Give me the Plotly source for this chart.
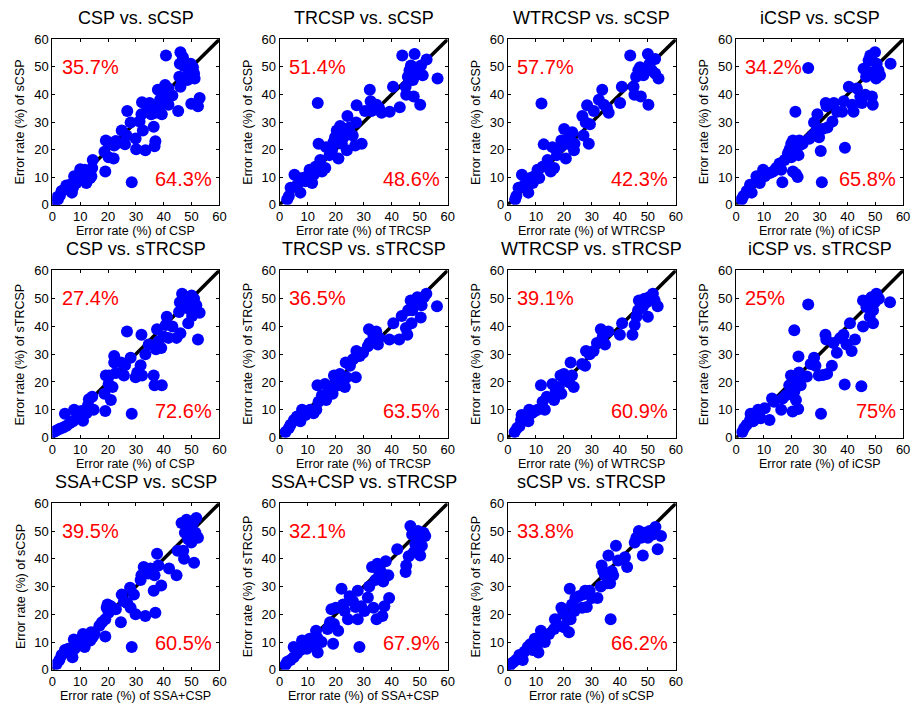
import plotly.graph_objects as go

# ---- error rates (%) per subject, one x/y pair per comparison ----
csp_vs_scsp_x = [1, 2, 1.5, 2.7, 3.3, 4.5, 5, 6.3, 7, 7.4, 7.8, 8.6, 9.6, 10, 11, 11.6, 12.2, 12.8, 13.6, 14.3, 14.5, 14,
                 19, 18.7, 19.2, 20.2, 20.4, 22, 22.8, 22.2, 23.4, 24.9, 26.1, 26.6, 26.9, 28.1, 28.5,
                 29.9, 30.1, 31.3, 32, 32.2, 32.5, 33.4, 34, 34.9, 35.5, 36.4, 36.7, 37, 37, 37.9, 38.1, 38.7,
                 39.1, 39.3, 39.9, 40.5, 40.8, 41.7, 41.7, 43.1, 45.2, 45.6, 46, 45.8, 46, 46.9, 47.3, 48.5, 49,
                 49.7, 49.9, 50.5, 50.9, 51.1, 52.3, 52.9, 50.2, 49.4]
csp_vs_scsp_y = [1.5, 2, 2.6, 3.4, 5, 5.6, 7, 7.3, 4.4, 6.2, 10.3, 7.9, 9.1, 12.9, 10.3, 12.7, 7.9, 11.5, 9.7, 13.3, 16.2, 10.3,
                 12.1, 19.2, 23.3, 17.2, 22.4, 16.8, 23.1, 21.5, 22.4, 26.9, 21.9, 25.1, 34, 29.8, 8.2,
                 24, 20.1, 30.2, 32.8, 37.2, 26.9, 19.8, 34, 36.9, 32.8, 28.3, 21.2, 23, 33.4, 41.7, 34.6, 38.1,
                 36.3, 32.8, 39.9, 43.4, 54.1, 42.2, 36.3, 39.6, 34, 46.4, 42.8, 51.1, 55.3, 53.5, 50.3, 45.2, 48.8,
                 51.1, 36.6, 49.9, 47.6, 45.8, 35.7, 38.7, 46.4, 47]

trcsp_vs_scsp_x = [2.7, 3.3, 3.9, 5.3, 6.3, 7.4, 8, 9.2, 9.8, 10.7, 11.6, 12.2, 12.8, 13.6, 13.9, 14.5, 15.1, 16.3, 16.6,
                   17.8, 18.7, 19.2, 19.8, 20.4, 21, 21.6, 22.2, 22.8, 23.4, 24, 24.2, 24.9, 26.1, 27, 27.3, 27.5,
                   29.3, 30.5, 32.2, 32.5, 32.8, 34.6, 35.5, 36.4, 39.3, 40.5, 42.9, 43.8, 45, 45.2, 45.8, 46.4,
                   46.9, 47.9, 48.2, 48.5, 49.4, 50.2, 50.5, 51.1, 52.5, 56.4, 47.6, 46.4]
trcsp_vs_scsp_y = [2, 3.2, 6.2, 10.9, 7.3, 4.4, 9.7, 8.5, 10.3, 12.7, 7.9, 10.9, 13.8, 36.9, 22.1, 16.2, 12.1, 13.3, 20.9,
                   18, 19.8, 22.7, 24.5, 26.9, 16.8, 28.6, 22.1, 24.5, 25.7, 19.8, 32.2, 28, 25.1, 21.5, 29.8, 36.1,
                   22.1, 34, 41.7, 37.5, 34, 36.3, 35.1, 33.4, 33.7, 42.8, 35.4, 54.1, 42.8, 39.9, 46.4, 48.8,
                   50.5, 39.3, 54.7, 47, 48.2, 36.3, 50.5, 47, 52.7, 45.8, 45.2, 45.2]

wtrcsp_vs_scsp_x = [2.6, 3, 3.8, 5, 5.9, 7.3, 8, 8.9, 9.4, 10.6, 11.2, 12, 12.4, 12.8, 14.2, 15.3, 16.5, 15.9, 17.5,
                    18.7, 19.1, 20.1, 20.7, 21.3, 21.9, 23, 23.6, 23.8, 26.6, 27, 27.8, 28.3, 28.9, 29.3, 30.7,
                    32.5, 33.7, 34.3, 35.4, 36, 40.1, 40.7, 43.7, 44.9, 45.2, 45.8, 46.6, 47.2, 47.5, 48.4, 49,
                    50, 50.2, 50.6, 51.4, 52.6, 52.6, 53.8]
wtrcsp_vs_scsp_y = [2, 3.2, 6.2, 10.9, 7.3, 4.4, 9.7, 7.9, 10.3, 12.7, 9.7, 36.7, 13.8, 21.9, 16.2, 12.1, 13.3, 20.9, 18,
                    20.9, 23.3, 27.5, 16.8, 22.1, 24.5, 26.3, 19.8, 22.1, 32.2, 25.1, 29.8, 36.1, 22.1, 29.2, 34,
                    38.1, 41.7, 36.3, 35.1, 33.4, 36.9, 42.8, 54.1, 42.8, 39.9, 46.4, 48.8, 49.9, 39.3, 47, 48.2,
                    54.7, 36.3, 51.1, 48.8, 52.9, 47.6, 45.8]

icsp_vs_scsp_x = [2, 2.6, 3.8, 5, 5.6, 7.3, 8.5, 9.7, 10.3, 12.1, 13.3, 14.4, 15.6, 16.2, 16.6, 17.4, 18.6, 19.2, 19.8,
                  19.8, 20.4, 20.4, 21.3, 21.5, 21.5, 22.1, 22.4, 22.7, 22.7, 23.9, 25.9, 26.3, 27.5, 28, 28.6,
                  29.2, 29.8, 30.4, 30.8, 31, 32.2, 32.5, 32.8, 34.6, 35.1, 36.3, 38.1, 38.7, 39.1, 40.5, 41.7,
                  42.2, 43.4, 44.6, 45.2, 45.8, 46.4, 46.7, 47.6, 48.2, 48.8, 49.1, 49.9, 50.3, 50.5, 51.1, 51.7,
                  55.5, 47.6]
icsp_vs_scsp_y = [2, 3.2, 5, 7.3, 4.4, 10.3, 7.9, 12.7, 10.3, 11.5, 12.1, 13.3, 15, 12.7, 8.2, 16.2, 18.6, 20, 17.2,
                  22.1, 23.3, 12.1, 33.7, 11.2, 19.8, 10.1, 18, 21.5, 23.3, 22.1, 49.6, 23.9, 25.1, 29.8, 26.3,
                  32.8, 24.5, 19.5, 8.2, 27.5, 36.9, 35.7, 28, 30.2, 36.9, 33.7, 33.7, 37.5, 20.7, 42.8, 36.3,
                  33.7, 42.2, 39.3, 36.9, 49.3, 39.9, 46.4, 52.3, 54.1, 39.3, 36.3, 55.3, 45.8, 51.1, 48.8, 47,
                  51.1, 48.2]

csp_vs_strcsp_x = [0.4, 1.5, 2.7, 3.9, 5.1, 4.5, 6.3, 7.4, 7.8, 8.9, 9.8, 10.4, 11, 12.2, 12.8, 13.1, 14.3, 14.8,
                   19, 18.7, 19.2, 20.2, 20.4, 21, 21.6, 22.2, 22.2, 22.8, 24.6, 25.7, 26.1, 26.8, 28.1, 28.5,
                   29.9, 30.5, 31.7, 32, 32.2, 33.4, 34.6, 36.4, 36.7, 37.2, 37.6, 38.1, 39.1, 39.3, 39.9, 40.7,
                   41.1, 41.7, 43.1, 44.6, 45.5, 45.8, 46, 46.6, 47.3, 48.2, 48.8, 49.4, 50, 50.2, 50.5, 50.9,
                   52.3, 52.9, 48.8, 51.7]
csp_vs_strcsp_y = [2.1, 2.6, 3.2, 3.7, 4.3, 8.6, 5.3, 5.9, 10, 8.2, 7, 9.6, 6.1, 8.8, 11.7, 13.8, 14.7, 10,
                   9.6, 15.8, 22.3, 19.3, 22.3, 13.5, 18.2, 27, 29.3, 23.2, 27, 22.3, 26, 38.1, 28.7, 8.6,
                   21.7, 23.4, 26, 36.9, 22.3, 29.9, 33.4, 22.3, 18.8, 31.7, 38.9, 34.6, 32.2, 18.8, 36.3, 40.4,
                   43.4, 35.8, 39.9, 35.8, 45.1, 48.6, 37.5, 51.6, 47.5, 50.4, 41, 48, 51, 43.6, 45.7, 49.8,
                   35.2, 44.8, 46.3, 47.5]

trcsp_vs_strcsp_x = [2.1, 3.3, 3.9, 5.1, 6.2, 7.4, 8, 9.2, 9.8, 10.9, 12.1, 13.1, 13.5, 13.9, 15.1, 16.2, 16.6, 17.4,
                     18, 18.9, 19.4, 20.1, 20.9, 21.5, 22.1, 22.7, 23.3, 23.6, 23.9, 25.1, 26.2, 27.2, 27.4, 28.6,
                     29.8, 31.5, 31.9, 32.1, 33.5, 34.5, 35.1, 35.6, 39.2, 40.6, 42.7, 43.6, 45.1, 45.6, 45.9,
                     46.8, 47.1, 47.9, 48.5, 49.2, 49.8, 50.4, 50.7, 51.5, 52.4, 56.2, 47.4]
trcsp_vs_strcsp_y = [2.1, 3.5, 4.7, 6.4, 7.6, 5.9, 10, 8.2, 9.4, 10, 8.8, 10, 18.8, 12.9, 15.2, 19.3, 13.5, 16.4,
                     18.2, 15.8, 22.3, 20.5, 18.8, 22.9, 20.5, 19.9, 18.2, 27, 21.7, 25.8, 28.1, 21.7, 31.1, 29.3,
                     30.5, 32.8, 38.9, 34, 36.6, 38.1, 33.4, 35.8, 35.2, 41, 35.2, 43.6, 39.3, 36.9, 45.7,
                     49.2, 41, 47.5, 49.2, 50.4, 48.3, 43.1, 47.5, 50.4, 51.6, 47.1, 45.7]

wtrcsp_vs_strcsp_x = [2.4, 3.3, 4.1, 4.7, 4.9, 5.9, 7.3, 7.6, 8.5, 9.4, 10.6, 11.8, 12.4, 13.2, 13.9, 15.9, 16.5,
                      17.1, 18.2, 19.1, 18.8, 20, 20.6, 21.8, 22.4, 22.9, 23.5, 26.5, 27.6, 27.9, 29.2, 30.6, 31.8,
                      33.2, 33.9, 34.7, 35.9, 40, 40.8, 44.5, 45.3, 45.9, 46.5, 46.8, 47.6, 48.8, 49.6, 50, 50.4,
                      51.8, 52.4, 53.5, 48.2]
wtrcsp_vs_strcsp_y = [2.1, 3.5, 4.1, 6.4, 8.2, 7, 5.9, 10, 8.8, 9.4, 10, 18.8, 12.9, 10, 14.7, 19.3, 13.5,
                      17, 18.2, 15.8, 22.3, 22.9, 21.1, 19.9, 27, 22.3, 18.2, 26.4, 25.8, 31.1, 29.9, 31.1, 34,
                      38.9, 36.3, 33.4, 38.1, 36.9, 41, 36.9, 40.4, 43.4, 45.7, 49.2, 47.5, 49.8, 48.6, 43.4, 50.4,
                      51.6, 49.2, 47.1, 46.9]

icsp_vs_strcsp_x = [2.2, 2.9, 3.8, 5, 5.2, 6.1, 7.9, 8.8, 10.3, 12, 12.9, 13.6, 16.2, 16.7, 17.9, 19.1, 19.7, 20.3,
                    20.9, 20.9, 21.5, 22.1, 22.3, 22.4, 22.6, 23.2, 25.4, 25.9, 26.8, 28, 28.5, 29.7, 30.5, 31.2,
                    32.1, 32.4, 32.7, 34.4, 35, 36.2, 37.4, 38.6, 39, 39.7, 40.9, 41.5, 42.7, 45, 45.6, 45.6,
                    46.8, 48, 48.6, 49.2, 49.8, 50.4, 51.3, 55.3, 49.2]
icsp_vs_strcsp_y = [2.1, 3.5, 4.7, 6.4, 8.6, 5.9, 10, 7, 10.6, 6.4, 14.1, 12.9, 10, 14.1, 15.2, 18.8, 22.3, 9.4,
                    16.6, 38.5, 13.5, 20.5, 10.3, 29.1, 23.4, 18.8, 22, 47.8, 26.4, 28.7, 25.8, 22.3, 8.6, 22.5,
                    36.9, 35.2, 22.9, 25.8, 34, 30.5, 35.8, 36.9, 19.1, 33.4, 41, 31.1, 35.2, 18.5, 39.9, 49.2,
                    46.9, 43.4, 50.4, 41, 48.6, 51.6, 49.8, 48.6, 45.7]

ssacsp_vs_scsp_x = [1.5, 2.5, 3.3, 4.5, 5.7, 6.3, 7.2, 8, 7.7, 9.2, 10.4, 11, 11.6, 12.8, 13.6, 13.9, 14.5, 15.1,
                    16.9, 17.8, 19, 19, 19.5, 20.2, 19.8, 21, 22.8, 24.6, 24.9, 25.7, 26.9, 27.9, 28.1, 28.5, 29.3,
                    29.9, 31.7, 32, 32.8, 33.4, 34.4, 35.2, 36.4, 37, 36.7, 37.6, 38.1, 39.1, 41.9, 44.6, 45,
                    46.4, 47, 47.3, 47.6, 48.2, 48.8, 49.4, 49.9, 50.5, 50.9, 51.4, 51.7, 52.3, 49.7]
ssacsp_vs_scsp_y = [2.1, 3.5, 5.3, 7.1, 7.6, 6.5, 4.5, 7.6, 10.9, 8.8, 11.2, 12.9, 8.2, 12.4, 10.6, 13.5, 11.8, 12.9,
                    15.9, 17.1, 12, 18.2, 22.4, 20.6, 23.5, 22.9, 21.8, 17.1, 27.1, 24.7, 24.1, 29.6, 22.4, 8.2, 27.1,
                    20, 32.4, 34.1, 37.1, 19.4, 34.7, 36.5, 28.5, 20.6, 34.1, 41.8, 37.6, 30.4, 36.5, 34.1, 42.9,
                    52.9, 42.9, 40, 49.4, 54.1, 47.1, 51.2, 45.9, 52.9, 38.6, 49.4, 54.7, 47.6, 48.8]

ssacsp_vs_strcsp_x = [2.1, 2.7, 3.9, 5, 5, 6.2, 7.4, 8, 8.8, 9.7, 10.7, 11.5, 12.1, 13, 13.5, 13.6, 15, 17.1, 18,
                      18.5, 19.1, 19.4, 20.1, 20.9, 22.1, 22.7, 23.2, 24.4, 25, 26.2, 27.1, 27.9, 27.9, 28.5, 29.1,
                      30.3, 31.5, 32, 33, 33.5, 34.2, 34.6, 34.9, 35.6, 36.2, 36.7, 37, 37.4, 37.9, 38.8, 39.1, 42,
                      45, 45.2, 46.1, 46.7, 47.3, 47.9, 48.5, 49.1, 49.4, 50.2, 50.8, 51.4, 52, 49.4]
ssacsp_vs_strcsp_y = [1.8, 2.9, 3.5, 4.5, 8.2, 5.9, 7.1, 10.6, 8.2, 7.6, 11.2, 10.6, 8.8, 14.1, 11.5, 6.2, 10, 14.7, 17.1,
                      21.8, 9.4, 16.5, 22.4, 14.1, 29.2, 23.5, 21.2, 18.2, 26.5, 24.7, 22.6, 28.5, 18.2, 8.2, 22.9,
                      21.2, 26.1, 30, 37.1, 22.4, 32.4, 18.2, 38.2, 35.3, 35.3, 19.4, 31.8, 22.9, 39.1, 34.1, 25.9, 43.5,
                      35.3, 37.6, 40.9, 51.8, 48.8, 42.4, 45.3, 47.6, 50, 41.2, 44.7, 49.4, 48.2, 45.9]

scsp_vs_strcsp_x = [0.9, 1.8, 2.9, 4.1, 5.3, 5.9, 7.1, 8, 8.8, 9.6, 10.4, 10.9, 11.8, 12.7, 13.2, 14.7, 16.5, 16.8,
                    18.2, 19.1, 19.8, 20, 21.2, 21.8, 22.1, 22.4, 22.9, 23.8, 24.1, 25.3, 26.5, 26.8, 27.6, 28.2,
                    29.2, 30, 32, 33.2, 33.5, 34.1, 34.7, 35.5, 35.9, 36.5, 36.7, 37.1, 37.6, 38.6, 39.4, 41.8,
                    42.6, 45.3, 45.9, 46.8, 48.2, 48.8, 50, 50.6, 51.8, 52.7, 53.5, 54.7, 47.6]
scsp_vs_strcsp_y = [1.8, 2.6, 3.5, 5.3, 3.5, 6.5, 8.2, 9.2, 7.1, 11.2, 8.8, 6.2, 14.1, 11.8, 10, 12.9, 14.7, 18.2,
                    15.9, 22.4, 20.6, 15.3, 18.8, 13.5, 29.2, 18.2, 23.5, 21.2, 25.9, 26.5, 22.4, 27.1, 28.5, 22.6,
                    28.5, 25.9, 25.9, 30, 37.6, 35.5, 34.1, 31.2, 41.2, 31.2, 18.2, 35.5, 34.1, 44.7, 39.4, 40.6,
                    37.1, 45.9, 47.6, 50, 41.2, 49.4, 47.6, 50, 48.8, 51.5, 43.5, 48.2, 47.6]

# ---- panel text ----
titles = ["CSP vs. sCSP", "TRCSP vs. sCSP", "WTRCSP vs. sCSP", "iCSP vs. sCSP",
          "CSP vs. sTRCSP", "TRCSP vs. sTRCSP", "WTRCSP vs. sTRCSP", "iCSP vs. sTRCSP",
          "SSA+CSP vs. sCSP", "SSA+CSP vs. sTRCSP", "sCSP vs. sTRCSP"]
x_methods = ["CSP", "TRCSP", "WTRCSP", "iCSP", "CSP", "TRCSP", "WTRCSP", "iCSP", "SSA+CSP", "SSA+CSP", "sCSP"]
y_methods = ["sCSP", "sCSP", "sCSP", "sCSP", "sTRCSP", "sTRCSP", "sTRCSP", "sTRCSP", "sCSP", "sTRCSP", "sTRCSP"]
pct_upper = ["35.7%", "51.4%", "57.7%", "34.2%", "27.4%", "36.5%", "39.1%", "25%", "39.5%", "32.1%", "33.8%"]
pct_lower = ["64.3%", "48.6%", "42.3%", "65.8%", "72.6%", "63.5%", "60.9%", "75%", "60.5%", "67.9%", "66.2%"]

xs = [csp_vs_scsp_x, trcsp_vs_scsp_x, wtrcsp_vs_scsp_x, icsp_vs_scsp_x,
      csp_vs_strcsp_x, trcsp_vs_strcsp_x, wtrcsp_vs_strcsp_x, icsp_vs_strcsp_x,
      ssacsp_vs_scsp_x, ssacsp_vs_strcsp_x, scsp_vs_strcsp_x]
ys = [csp_vs_scsp_y, trcsp_vs_scsp_y, wtrcsp_vs_scsp_y, icsp_vs_scsp_y,
      csp_vs_strcsp_y, trcsp_vs_strcsp_y, wtrcsp_vs_strcsp_y, icsp_vs_strcsp_y,
      ssacsp_vs_scsp_y, ssacsp_vs_strcsp_y, scsp_vs_strcsp_y]

# ---- layout geometry (pixels) ----
W, H = 919, 715
col_px = [(49, 218), (279, 449), (510, 680), (741, 910)]
row_px = [(33, 202), (269, 440), (507, 677)]
FONT = "Liberation Sans, Arial, Helvetica, sans-serif"

fig = go.Figure()
layout = dict(width=W, height=H, margin=dict(l=0, r=0, t=0, b=0),
              paper_bgcolor="white", plot_bgcolor="white", showlegend=False,
              font=dict(family=FONT, color="black"))
annotations = []

for i in range(len(titles)):
    r, c = divmod(i, 4)
    n = i + 1
    xa = "x" if n == 1 else f"x{n}"
    ya = "y" if n == 1 else f"y{n}"
    x0, x1 = col_px[c]
    y0, y1 = row_px[r]
    dx = [x0 / W, x1 / W]
    dy = [1 - y1 / H, 1 - y0 / H]

    axis_common = dict(range=[0, 60], tickvals=[0, 10, 20, 30, 40, 50, 60],
                       ticks="inside", ticklen=3, tickwidth=1, tickcolor="black",
                       showline=True, linecolor="black", linewidth=1, mirror="ticks",
                       showgrid=False, zeroline=False, fixedrange=True,
                       tickfont=dict(size=13, family=FONT, color="black"))
    layout[f"xaxis{n if n > 1 else ''}"] = dict(axis_common, domain=dx, anchor=ya)
    layout[f"yaxis{n if n > 1 else ''}"] = dict(axis_common, domain=dy, anchor=xa)

    # identity line under the points
    fig.add_trace(go.Scatter(x=[0, 60], y=[0, 60], mode="lines",
                             line=dict(color="black", width=3.5),
                             xaxis=xa, yaxis=ya, hoverinfo="skip"))
    fig.add_trace(go.Scatter(x=xs[i], y=ys[i], mode="markers",
                             marker=dict(color="#0000ff", size=12, line=dict(width=0)),
                             xaxis=xa, yaxis=ya))

    cx = (dx[0] + dx[1]) / 2
    annotations.append(dict(text=titles[i], xref="paper", yref="paper", x=cx, y=dy[1],
                            yshift=9, xanchor="center", yanchor="bottom", showarrow=False,
                            font=dict(size=18, family=FONT, color="black")))
    annotations.append(dict(text=f"Error rate (%) of {x_methods[i]}", xref="paper", yref="paper",
                            x=cx, y=dy[0], yshift=-26, xanchor="center", yanchor="middle",
                            showarrow=False, font=dict(size=12.5, family=FONT, color="black")))
    annotations.append(dict(text=f"Error rate (%) of {y_methods[i]}", xref="paper", yref="paper",
                            x=dx[0], y=(dy[0] + dy[1]) / 2, xshift=-32, textangle=-90,
                            xanchor="center", yanchor="middle", showarrow=False,
                            font=dict(size=12.5, family=FONT, color="black")))
    annotations.append(dict(text=pct_upper[i], xref=xa, yref=ya, x=2.6, y=50,
                            xanchor="left", yanchor="middle", showarrow=False,
                            font=dict(size=20, family=FONT, color="red")))
    annotations.append(dict(text=pct_lower[i], xref=xa, yref=ya, x=58, y=9.5,
                            xanchor="right", yanchor="middle", showarrow=False,
                            font=dict(size=20, family=FONT, color="red")))

layout["annotations"] = annotations
fig.update_layout(**layout)
fig.write_html("out.html")
